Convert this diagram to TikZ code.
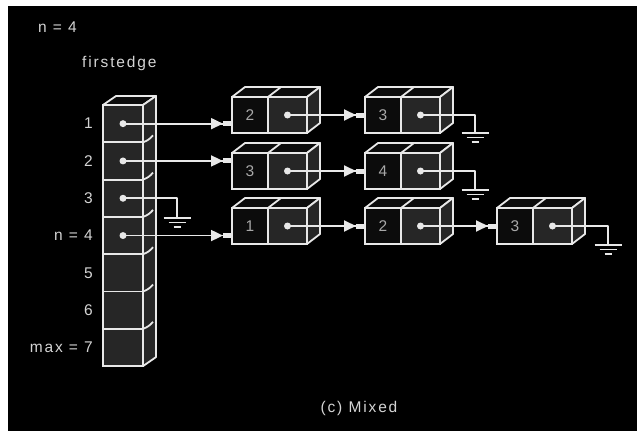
\documentclass[tikz,border=0pt]{standalone}
\usepackage{fontspec}
\setmainfont{Liberation Sans}[LetterSpace=12]
\usetikzlibrary{arrows.meta,calc}
\definecolor{linegray}{HTML}{E8E8E8}
\definecolor{cellgray}{HTML}{262626}
\definecolor{celldark}{HTML}{0C0C0C}
\definecolor{txt}{HTML}{D4D4D4}
\definecolor{numtxt}{HTML}{A8A8A8}
% a two-cell list node with its 3D top and side faces
\newcommand\listnode[4]{%
  \node[numcell] (#1n) at ({#2+18},#3) {#4};
  \node[ptrcell,anchor=west] (#1p) at (#1n.east) {};
  \filldraw[wire,fill=celldark] (#1n.north west) -- ++(13,-10)
    -- ($(#1p.north east)+(13,-10)$) -- (#1p.north east) -- cycle;
  \draw[wire] (#1n.north east) -- ++(13,-10);
  \filldraw[wire,fill=cellgray] (#1p.north east) -- ++(13,-10)
    -- ($(#1p.south east)+(13,-10)$) -- (#1p.south east) -- cycle;
  \node[dot] (#1d) at (#1p.center) {};
}
% a ground symbol whose top bar is centred at a named coordinate
\newcommand\groundsym[4]{%
  \coordinate (#1) at (#3,#4);
  \draw[wire] (#2.center) -| (#1);
  \draw[wire] ($(#1)+(-13.5,0)$) -- ++(27,0);
  \draw[wire] ($(#1)+(-8.5,4.5)$) -- ++(17,0);
  \draw[wire] ($(#1)+(-3.5,9)$) -- ++(7,0);
}
\begin{document}
\begin{tikzpicture}[x=1pt,y=-1pt,
  wire/.style={draw=linegray,line width=1.8pt,line join=round},
  link/.style={wire,-{Triangle[length=12pt,width=11pt,sep=0pt]Rectangle[length=9pt,width=5pt,sep=0pt]}},
  arrcell/.style={draw=linegray,line width=1.8pt,fill=cellgray,inner sep=0,outer sep=0,
    minimum width=40pt,minimum height=37.3pt},
  numcell/.style={draw=linegray,line width=1.8pt,fill=celldark,inner sep=0,outer sep=0,
    minimum width=36pt,minimum height=36pt,text=numtxt,font=\fontsize{15.5}{18}\selectfont},
  ptrcell/.style={draw=linegray,line width=1.8pt,fill=cellgray,inner sep=0,outer sep=0,
    minimum width=39pt,minimum height=36pt},
  dot/.style={circle,fill=linegray,inner sep=0,minimum size=7pt},
  lab/.style={text=txt,inner sep=0,font=\fontsize{15.5}{18}\selectfont}]
\useasboundingbox (0,0) rectangle (637,431);
\fill[white] (0,0) rectangle (637,431);
\fill[black] (8,6) rectangle (637,431);

% headings
\node[lab,anchor=west] (ntop) at (38,27) {n = 4};
\node[lab,anchor=west] (head) at (82,63) {firstedge};

% the firstedge array
\foreach \i in {1,...,7}
  \node[arrcell] (a\i) at (123,{105+37.3*(\i-1)+18.65}) {};
\filldraw[wire,fill=celldark] (a1.north west) -- ++(13,-9)
  -- ($(a1.north east)+(13,-9)$) -- (a1.north east) -- cycle;
\filldraw[wire,fill=cellgray] (a1.north east) -- ++(13,-9)
  -- ($(a7.south east)+(13,-9)$) -- (a7.south east) -- cycle;
\foreach \i in {2,...,7}
  \draw[wire] (a\i.north east) to[bend right=15] ++(10,-7);
\foreach \i/\t in {1/1,2/2,3/3,4/n = 4,5/5,6/6,7/max = 7}
  \node[lab,anchor=east] (l\i) at ($(a\i.west)+(-10,0)$) {\t};
\foreach \i in {1,2,3,4}
  \node[dot] (a\i d) at (a\i.center) {};

% adjacency lists
\listnode{ra}{232}{115}{2}
\listnode{rb}{365}{115}{3}
\listnode{sa}{232}{171}{3}
\listnode{sb}{365}{171}{4}
\listnode{ta}{232}{226}{1}
\listnode{tb}{365}{226}{2}
\listnode{tc}{497}{226}{3}

% pointers
\draw[link] (a1d.center) -- (a1d.center -| ran.west);
\draw[link] (a2d.center) -- (a2d.center -| san.west);
\draw[link] (a4d.center) -- (a4d.center -| tan.west);
\draw[link] (rad.center) -- (rad.center -| rbn.west);
\draw[link] (sad.center) -- (sad.center -| sbn.west);
\draw[link] (tad.center) -- (tad.center -| tbn.west);
\draw[link] (tbd.center) -- (tbd.center -| tcn.west);

% null pointers
\groundsym{g0}{a3d}{177}{218}
\groundsym{g1}{rbd}{475}{133}
\groundsym{g2}{sbd}{475}{190}
\groundsym{g3}{tcd}{608}{245}

\node[lab] (cap) at (359,408) {(c) Mixed};
\end{tikzpicture}
\end{document}
